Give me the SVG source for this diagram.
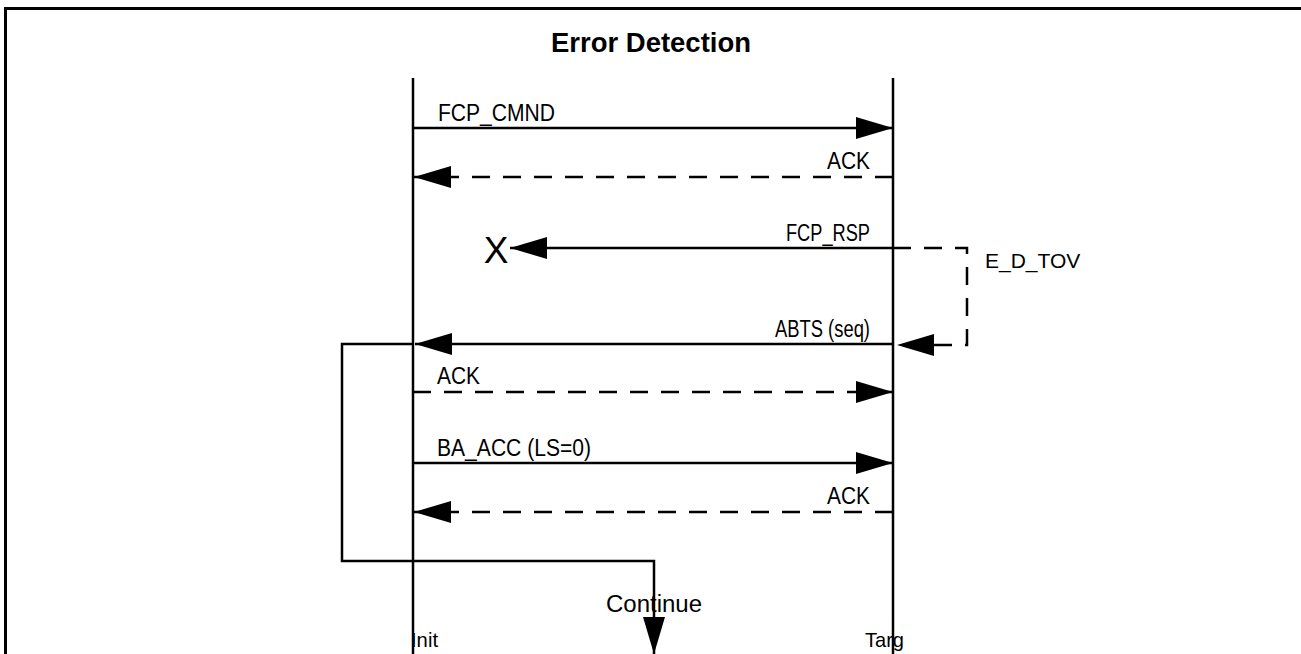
<svg xmlns="http://www.w3.org/2000/svg" width="1301" height="654" viewBox="0 0 1301 654">
<defs>
<marker id="ah" viewBox="0 0 37 22" refX="37" refY="11" markerWidth="37" markerHeight="22" markerUnits="userSpaceOnUse" orient="auto">
<path d="M0,0 L37,11 L0,22 Z" fill="#000"/>
</marker>
<style>
.t{font-family:"Liberation Sans",Arial,sans-serif;font-size:23px;fill:#000}
.ln{stroke:#000;stroke-width:2.5;fill:none}
.d{stroke-dasharray:18 13}
</style>
</defs>
<rect x="0" y="0" width="1301" height="654" fill="#fff"/>
<rect x="5.5" y="8.5" width="1310" height="660" fill="none" stroke="#000" stroke-width="3"/>
<text x="651" y="52" text-anchor="middle" textLength="200" lengthAdjust="spacingAndGlyphs" style="font-family:'Liberation Sans',Arial,sans-serif;font-weight:bold;font-size:27px">Error Detection</text>
<g id="init"><line class="ln" x1="413" y1="78" x2="413" y2="654"/><text class="t" x="411" y="647" textLength="27" lengthAdjust="spacingAndGlyphs" style="font-size:21px">Init</text></g>
<g id="targ"><line class="ln" x1="893" y1="78" x2="893" y2="654"/><text class="t" x="865" y="647" textLength="39" lengthAdjust="spacingAndGlyphs" style="font-size:21px">Targ</text></g>
<g id="connectors">
<line class="ln" x1="413" y1="128" x2="893" y2="128" marker-end="url(#ah)"/>
<text class="t" x="438" y="121" textLength="117" lengthAdjust="spacingAndGlyphs">FCP_CMND</text>
<line class="ln d" x1="893" y1="177" x2="414" y2="177" marker-end="url(#ah)"/>
<text class="t" x="827" y="169" textLength="43" lengthAdjust="spacingAndGlyphs">ACK</text>
<line class="ln" x1="893" y1="248" x2="510" y2="248" marker-end="url(#ah)"/>
<text class="t" x="786" y="241" textLength="84" lengthAdjust="spacingAndGlyphs">FCP_RSP</text>
<text x="496" y="263" text-anchor="middle" style="font-family:'Liberation Sans',Arial,sans-serif;font-size:37px">X</text>
<polyline class="ln d" points="893,248 967,248 967,345 897,345" marker-end="url(#ah)"/>
<text x="985" y="268" style="font-family:'Liberation Sans',Arial,sans-serif;font-size:21px">E_D_TOV</text>
<line class="ln" x1="893" y1="344" x2="415" y2="344" marker-end="url(#ah)"/>
<text class="t" x="775" y="337" textLength="95" lengthAdjust="spacingAndGlyphs">ABTS (seq)</text>
<line class="ln d" x1="413" y1="392" x2="893" y2="392" marker-end="url(#ah)"/>
<text class="t" x="437" y="384" textLength="43" lengthAdjust="spacingAndGlyphs">ACK</text>
<line class="ln" x1="413" y1="463" x2="893" y2="463" marker-end="url(#ah)"/>
<text class="t" x="437" y="456" textLength="154" lengthAdjust="spacingAndGlyphs">BA_ACC (LS=0)</text>
<line class="ln d" x1="893" y1="512" x2="414" y2="512" marker-end="url(#ah)"/>
<text class="t" x="827" y="504" textLength="43" lengthAdjust="spacingAndGlyphs">ACK</text>
<polyline class="ln" points="413,344 342,344 342,561 654,561 654,654" marker-end="url(#ah)"/>
<text class="t" x="606" y="612" textLength="96" lengthAdjust="spacingAndGlyphs">Continue</text>
</g>
</svg>
